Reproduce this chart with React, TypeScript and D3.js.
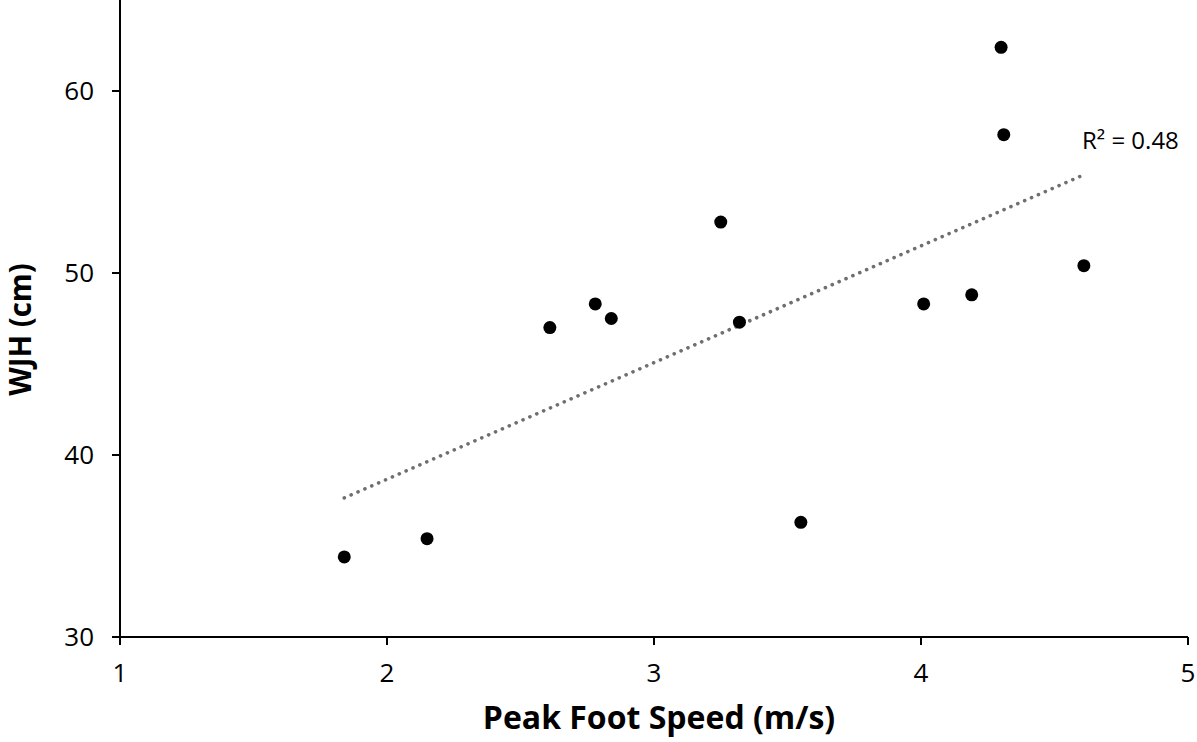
import React from 'react';
import * as d3 from 'd3';

// Peak foot speed (m/s) vs WJH (cm)
const footSpeed = [1.84, 2.15, 2.61, 2.78, 2.84, 3.25, 3.32, 3.55, 4.01, 4.19, 4.30, 4.31, 4.61];
const wjh = [34.4, 35.4, 47.0, 48.3, 47.5, 52.8, 47.3, 36.3, 48.3, 48.8, 62.4, 57.6, 50.4];
const xTicks = [1, 2, 3, 4, 5];
const yTicks = [30, 40, 50, 60];

const FONT = "'Open Sans', sans-serif";

export default function App() {
  const width = 1197;
  const height = 742;
  const margin = { top: 0, right: 9, bottom: 105, left: 120 };

  const xScale = d3.scaleLinear().domain([1, 5]).range([margin.left, width - margin.right]);
  const yScale = d3.scaleLinear().domain([30, 65]).range([height - margin.bottom, margin.top]);

  const pts = footSpeed.map((x, i) => ({ x, y: wjh[i] }));

  // least squares trendline
  const mx = d3.mean(footSpeed) as number;
  const my = d3.mean(wjh) as number;
  const sxy = d3.sum(pts, d => (d.x - mx) * (d.y - my));
  const sxx = d3.sum(pts, d => (d.x - mx) ** 2);
  const syy = d3.sum(pts, d => (d.y - my) ** 2);
  const slope = sxy / sxx;
  const icpt = my - slope * mx;
  const r2 = (sxy * sxy) / (sxx * syy);
  const [x0, x1] = d3.extent(footSpeed) as [number, number];
  const trend = d3.line<number>()
    .x(d => xScale(d))
    .y(d => yScale(icpt + slope * d))([x0, x1]);

  const y0 = yScale(30);
  const xLeft = xScale(1);

  return (
    <div style={{ position: 'absolute', left: 0, top: 0 }}>
      <svg width={width} height={height} style={{ display: 'block', background: '#fff' }}>
        {/* trendline */}
        <path d={trend || ''} fill="none" stroke="#6f6f6f" strokeWidth={3.6}
          strokeLinecap="round" strokeDasharray="0.1 7.4" />

        {/* points */}
        {pts.map((d, i) => (
          <circle key={i} cx={xScale(d.x)} cy={yScale(d.y)} r={6.5} fill="#000" />
        ))}

        {/* axes */}
        <line x1={xLeft} x2={xLeft} y1={0} y2={y0} stroke="#000" strokeWidth={2} />
        <line x1={xLeft - 8} x2={xScale(5)} y1={y0} y2={y0} stroke="#000" strokeWidth={2} />
        {yTicks.map(t => (
          <g key={t}>
            <line x1={xLeft - 8} x2={xLeft} y1={yScale(t)} y2={yScale(t)} stroke="#000" strokeWidth={2} />
            <text x={xLeft - 26} y={yScale(t)} dy="0.35em" textAnchor="end"
              fontFamily={FONT} fontSize={26} fill="#000">{t}</text>
          </g>
        ))}
        {xTicks.map(t => (
          <g key={t}>
            <line x1={xScale(t)} x2={xScale(t)} y1={y0} y2={y0 + 8} stroke="#000" strokeWidth={2} />
            <text x={xScale(t)} y={y0 + 45} textAnchor="middle"
              fontFamily={FONT} fontSize={26} fill="#000">{t}</text>
          </g>
        ))}

        <text x={xScale(4.603)} y={149} fontFamily={FONT} fontSize={24} fill="#000">
          R² = {r2.toFixed(2)}
        </text>

        <text x={659} y={729} textAnchor="middle"
          fontFamily={FONT} fontWeight="bold" fontSize={32} fill="#000">Peak Foot Speed (m/s)</text>
        <text transform={`translate(31,${329.5}) rotate(-90)`} textAnchor="middle"
          fontFamily={FONT} fontWeight="bold" fontSize={29.5} fill="#000">WJH (cm)</text>
      </svg>
    </div>
  );
}
